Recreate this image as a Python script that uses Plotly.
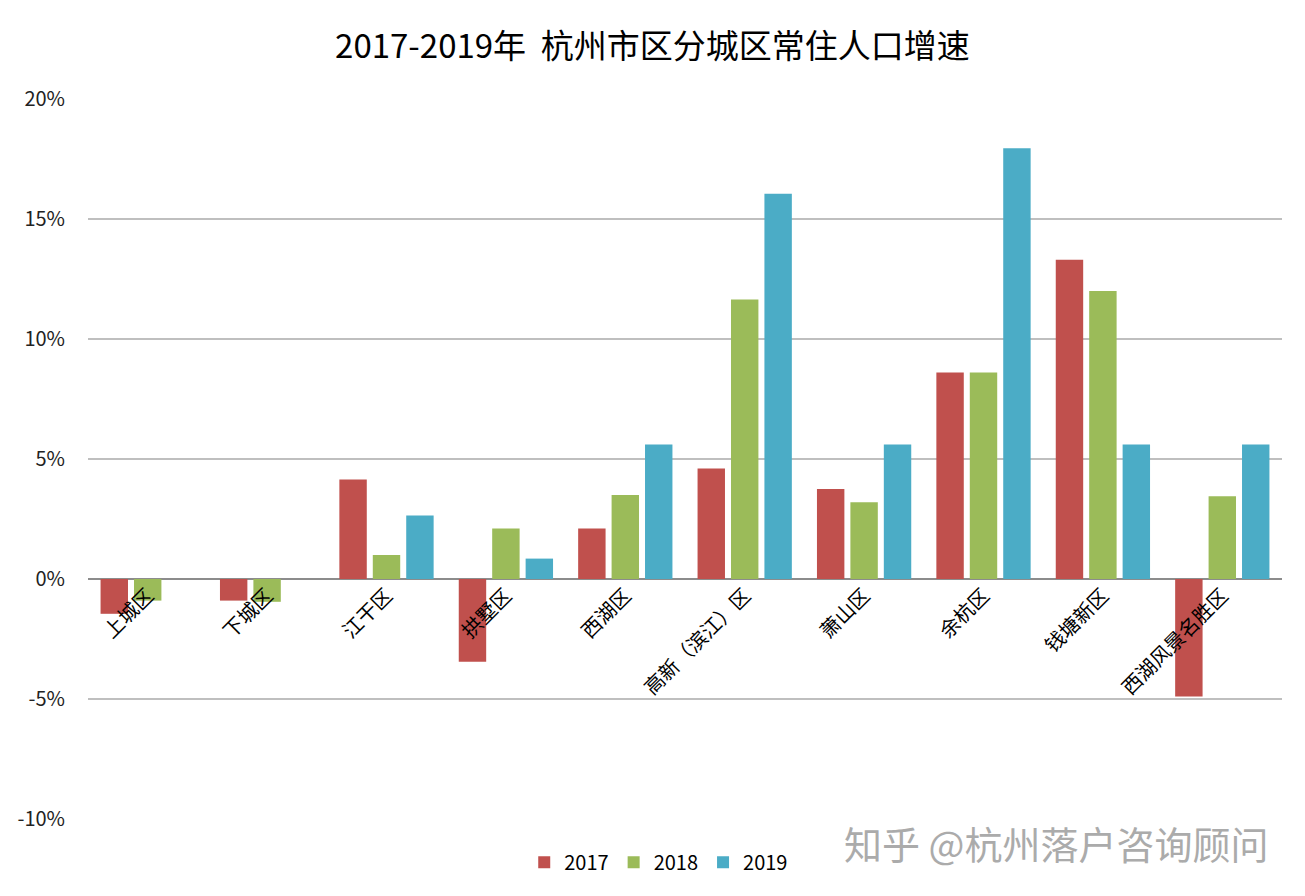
import plotly.graph_objects as go

districts = ["上城区", "下城区", "江干区", "拱墅区", "西湖区", "高新（滨江）区",
             "萧山区", "余杭区", "钱塘新区", "西湖风景名胜区"]
growth_2017 = [-1.45, -0.9, 4.15, -3.45, 2.1, 4.6, 3.75, 8.6, 13.3, -4.9]
growth_2018 = [-0.9, -0.95, 1.0, 2.1, 3.5, 11.65, 3.2, 8.6, 12.0, 3.45]
growth_2019 = [None, None, 2.65, 0.85, 5.6, 16.05, 5.6, 17.95, 5.6, 5.6]
years = ["2017", "2018", "2019"]
colors = ["#C0504D", "#9BBB59", "#4BACC6"]
y_ticks = [-10, -5, 0, 5, 10, 15, 20]
y_tick_text = [f"{v}%" for v in y_ticks]

FONT = "Noto Sans CJK SC, Noto Sans, sans-serif"

fig = go.Figure()
for year, vals, col in zip(years, [growth_2017, growth_2018, growth_2019], colors):
    fig.add_trace(go.Bar(x=districts, y=vals, name=year,
                         marker=dict(color=col, line=dict(width=0))))

fig.update_layout(
    title=dict(text="2017-2019年  杭州市区分城区常住人口增速", x=0.5, xanchor="center",
               y=1 - 46 / 896, yanchor="middle",
               font=dict(family=FONT, size=33, color="#000")),
    width=1305, height=896,
    margin=dict(l=88, r=23, t=99, b=77),
    plot_bgcolor="white", paper_bgcolor="white",
    barmode="group", bargap=0.16, bargroupgap=0.18,
    font=dict(family=FONT, size=20, color="#000"),
    legend=dict(orientation="h", x=0.478, xanchor="center", y=-0.06, yanchor="middle",
                font=dict(size=20), traceorder="normal"),
    showlegend=True,
)
fig.update_yaxes(range=[-10, 20], tickvals=y_ticks, ticktext=y_tick_text,
                 showgrid=True, gridcolor="#BFBFBF", gridwidth=1.5,
                 zeroline=True, zerolinecolor="#8C8C8C", zerolinewidth=2,
                 tickfont=dict(size=20, color="#222"), ticklabelstandoff=22,
                 showline=False, ticks="", automargin=False)
fig.update_xaxes(anchor="free", position=1 / 3, showline=False, ticks="",
                 tickangle=-45, tickfont=dict(size=20, color="#000"),
                 showgrid=False, automargin=False)

fig.add_annotation(text="知乎 @杭州落户咨询顾问", xref="paper", yref="paper",
                   x=0.99, y=-0.033, xanchor="right", yanchor="middle", showarrow=False,
                   font=dict(family=FONT, size=38, color="#ABABAB"))

fig.write_html("out.html", config={"displayModeBar": False},
               post_script="document.body.style.margin='0px';")
